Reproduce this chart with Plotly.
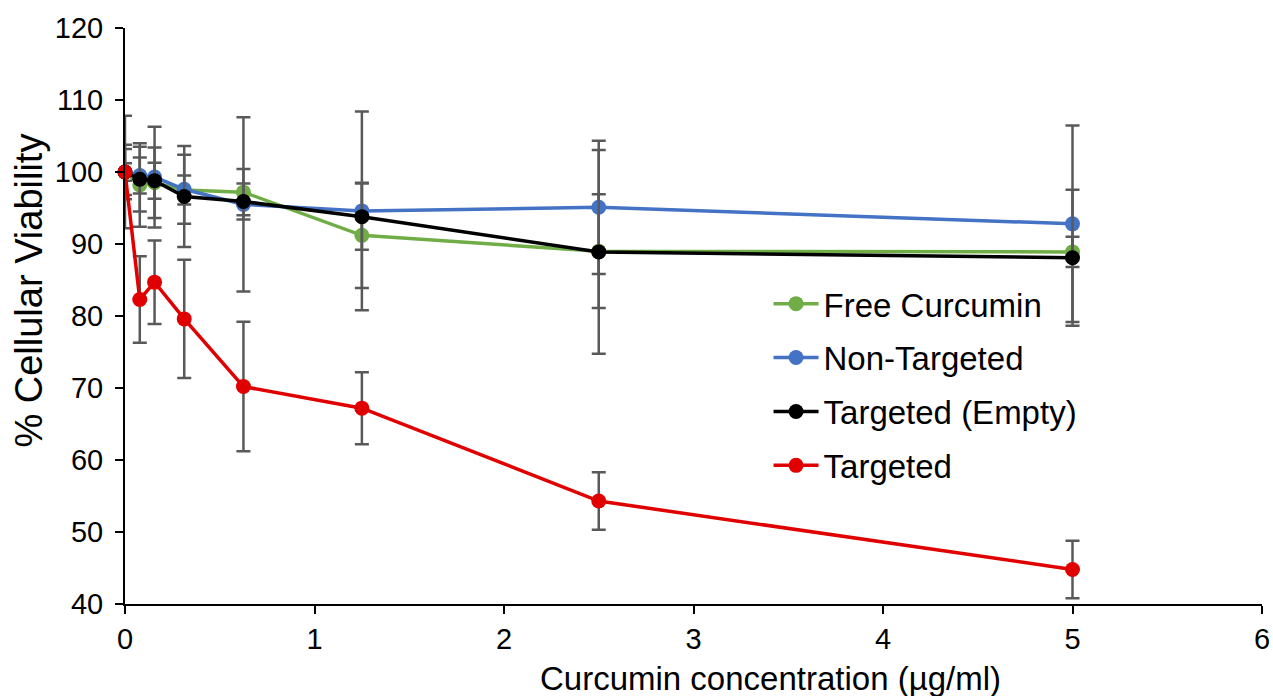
import plotly.graph_objects as go

# Data
conc = [0, 0.078, 0.156, 0.3125, 0.625, 1.25, 2.5, 5]

free_curcumin = [100, 98.2, 98.5, 97.5, 97.2, 91.2, 89.0, 88.9]
free_curcumin_err = [7.8, 5.8, 4.9, 2.0, 3.2, 7.3, 7.9, 2.1]

non_targeted = [100, 99.5, 99.3, 97.6, 95.5, 94.6, 95.1, 92.8]
non_targeted_err = [3.8, 2.5, 7.0, 4.8, 12.1, 13.8, 9.25, 13.65]

targeted_empty = [100, 99.0, 98.8, 96.6, 95.9, 93.8, 88.9, 88.1]
targeted_empty_err = [3.2, 4.5, 2.5, 7.0, 2.5, 4.6, 14.15, 9.45]

targeted = [100, 82.3, 84.7, 79.6, 70.2, 67.2, 54.3, 44.8]
targeted_err = [1.2, 6.0, 5.8, 8.2, 9.0, 5.0, 4.0, 4.0]

series_names = ["Free Curcumin", "Non-Targeted", "Targeted (Empty)", "Targeted"]
series_vals = [free_curcumin, non_targeted, targeted_empty, targeted]
series_errs = [free_curcumin_err, non_targeted_err, targeted_empty_err, targeted_err]
series_colors = ["#70AD47", "#4472C4", "#000000", "#E00000"]

FONT = "Liberation Sans, Arial, sans-serif"

fig = go.Figure()
for i, (name, vals, errs, col) in enumerate(zip(series_names, series_vals, series_errs, series_colors)):
    fig.add_trace(go.Scatter(
        x=conc, y=vals, name=name, mode="lines+markers",
        line=dict(color=col, width=3.5),
        marker=dict(color=col, size=15),
        error_y=dict(type="data", array=errs, visible=True,
                     color="#595959", thickness=2.5, width=7),
        cliponaxis=False,
        legendgroup=f"g{i}",
    ))

fig.update_layout(
    width=1273, height=696,
    margin=dict(l=125, r=11, t=28, b=92, autoexpand=False),
    paper_bgcolor="white", plot_bgcolor="white",
    font=dict(family=FONT, color="#000000", size=29),
    showlegend=True,
    legend=dict(
        x=0.566, y=0.57, xanchor="left", yanchor="top",
        font=dict(family=FONT, size=33, color="#000000"),
        bgcolor="rgba(0,0,0,0)",
        tracegroupgap=8,
        itemwidth=45,
    ),
    xaxis=dict(
        range=[0, 6], dtick=1, tick0=0, automargin=False,
        showline=True, linecolor="#000000", linewidth=2,
        ticks="outside", ticklen=8, tickwidth=2, tickcolor="#000000",
        showgrid=False, zeroline=False,
        tickfont=dict(family=FONT, size=29, color="#000000"),
    ),
    yaxis=dict(
        range=[40, 120], dtick=10, tick0=40, automargin=False,
        showline=True, linecolor="#000000", linewidth=2,
        ticks="outside", ticklen=8, tickwidth=2, tickcolor="#000000",
        showgrid=False, zeroline=False,
        ticklabelstandoff=6,
        tickfont=dict(family=FONT, size=29, color="#000000"),
    ),
    annotations=[
        dict(text="Curcumin concentration (µg/ml)", xref="paper", yref="paper",
             x=0.568, y=-0.13, xanchor="center", yanchor="middle", showarrow=False,
             font=dict(family=FONT, size=33, color="#000000")),
        dict(text="% Cellular Viability", xref="paper", yref="paper",
             x=-0.084, y=0.545, xanchor="center", yanchor="middle", showarrow=False,
             textangle=-90,
             font=dict(family=FONT, size=38, color="#000000")),
    ],
)

fig.write_html(
    "out.html",
    config={"displayModeBar": False},
    post_script="document.body.style.margin='0';document.body.style.overflow='hidden';",
)
